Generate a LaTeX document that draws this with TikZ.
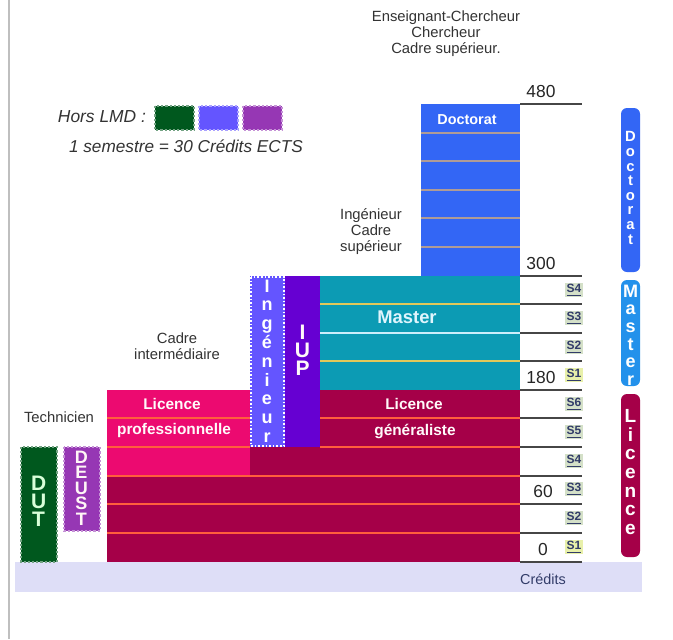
\documentclass[tikz,border=0pt]{standalone}
\usepackage{fontspec}
\setmainfont{Liberation Sans}
\usetikzlibrary{positioning}

\definecolor{docblue}{RGB}{51,102,245}
\definecolor{masterteal}{RGB}{12,155,180}
\definecolor{licred}{RGB}{165,0,72}
\definecolor{licpink}{RGB}{236,10,112}
\definecolor{iupviolet}{RGB}{102,0,210}
\definecolor{ingblue}{RGB}{100,85,255}
\definecolor{dutgreen}{RGB}{0,88,30}
\definecolor{deustpurple}{RGB}{150,55,180}
\definecolor{bandlav}{RGB}{222,222,247}
\definecolor{linered}{RGB}{255,95,60}
\definecolor{docline}{RGB}{175,155,150}
\definecolor{mastline}{RGB}{225,200,90}
\definecolor{scalegray}{RGB}{70,70,70}
\definecolor{semtext}{RGB}{50,60,105}
\definecolor{semfill}{RGB}{212,224,200}
\definecolor{semfirst}{RGB}{232,240,170}
\definecolor{mastertab}{RGB}{35,145,235}

\begin{document}
\begin{tikzpicture}[x=0.5pt, y=-0.5pt,
    dotbox/.style={densely dotted, line width=1.1pt},
    sepline/.style={line width=0.9pt},
    scaleline/.style={draw=scalegray, line width=0.8pt},
    caption/.style={align=center, text=black!80, font=\fontsize{7.4}{8}\selectfont},
    blocklabel/.style={text=white!92!pink, font=\bfseries\fontsize{7.7}{9}\selectfont},
    vletters/.style={align=center, text=white, inner sep=0pt},
    num/.style={text=black!85, font=\fontsize{8.7}{9}\selectfont},
    sem/.style={text=semtext, fill=semfill, inner sep=0.6pt, font=\bfseries\fontsize{6}{6.5}\selectfont},
    tab/.style={rounded corners=3pt}
]

% Page
\fill[white] (0,0) rectangle (673,639);
\useasboundingbox (0,0) rectangle (673,639);
\draw[black!25, line width=1pt] (9,0) -- (9,639);

% Credits band
\fill[bandlav] (15,562) rectangle (642,592);
\node[text=semtext, font=\fontsize{7.2}{8}\selectfont] (credits) at (543,579) {Crédits};

% Licence blocks
\fill[licred] (107,390) rectangle (520,562);
\fill[licpink] (107,390) rectangle (250,476);
\draw[linered, sepline] (107,418) -- (250,418);
\draw[linered, sepline] (320,418) -- (520,418);
\draw[linered, sepline] (107,447) -- (250,447);
\draw[linered, sepline] (320,447) -- (520,447);
\draw[linered, sepline] (107,476) -- (520,476);
\draw[linered, sepline] (107,504) -- (520,504);
\draw[linered, sepline] (107,533) -- (520,533);
\node[blocklabel] (licpro1) at (172,404) {Licence};
\node[blocklabel] (licpro2) at (174,431) {professionnelle};
\node[blocklabel] (licgen1) at (414,404) {Licence};
\node[blocklabel] (licgen2) at (415,431) {généraliste};

% Master block
\fill[masterteal] (320,276) rectangle (520,390);
\draw[mastline, line width=0.7pt] (320,304) -- (520,304);
\draw[white!80!cyan, line width=0.7pt] (320,333) -- (520,333);
\draw[mastline, line width=0.7pt] (320,361) -- (520,361);
\node[text=white!88!cyan, font=\bfseries\fontsize{9.2}{10}\selectfont] (master) at (407,317) {Master};

% Doctorat block
\fill[docblue] (421,104) rectangle (520,276);
\draw[docline, line width=0.7pt] (421,133) -- (520,133);
\draw[docline, line width=0.7pt] (421,161) -- (520,161);
\draw[docline, line width=0.7pt] (421,190) -- (520,190);
\draw[docline, line width=0.7pt] (421,218) -- (520,218);
\draw[docline, line width=0.7pt] (421,247) -- (520,247);
\node[text=white, font=\bfseries\fontsize{7.2}{8}\selectfont] (doctorat) at (467,120) {Doctorat};

% Ingenieur and IUP
\fill[ingblue] (250,276) rectangle (285,447);
\draw[white, densely dotted, line width=0.8pt] (251,277) rectangle (284,446);
\node[vletters, font=\bfseries\fontsize{9}{9.4}\selectfont] (ingenieur) at (267,361) {I\\n\\g\\é\\n\\i\\e\\u\\r};
\fill[iupviolet] (285,276) rectangle (320,447);
\node[vletters, text=white!90!pink, font=\bfseries\fontsize{10.5}{9}\selectfont] (iup) at (302.5,350) {I\\U\\P};

% Hors LMD: DUT and DEUST
\fill[dutgreen] (21,447) rectangle (57,562);
\draw[dutgreen!55!white, dotbox] (21,447) rectangle (57,562);
\node[vletters, text=green!15!white, font=\bfseries\fontsize{10.5}{9}\selectfont] (dut) at (38.6,501) {D\\U\\T};
\fill[deustpurple] (64,447) rectangle (100,531);
\draw[deustpurple!55!white, dotbox] (64,447) rectangle (100,531);
\node[vletters, text=white!85!pink, font=\bfseries\fontsize{9}{7.75}\selectfont] (deust) at (81.4,488) {D\\E\\U\\S\\T};

% Credit scale
\draw[scaleline] (520,104) -- (582,104);
\draw[scaleline] (520,276) -- (582,276);
\draw[scaleline] (520,304) -- (582,304);
\draw[scaleline] (520,333) -- (582,333);
\draw[scaleline] (520,361) -- (582,361);
\draw[scaleline] (520,390) -- (582,390);
\draw[scaleline] (520,418) -- (582,418);
\draw[scaleline] (520,447) -- (582,447);
\draw[scaleline] (520,476) -- (582,476);
\draw[scaleline] (520,504) -- (582,504);
\draw[scaleline] (520,533) -- (582,533);
\draw[scaleline] (520,562) -- (582,562);
\node[num] (n480) at (541,92) {480};
\node[num] (n300) at (541,263) {300};
\node[num] (n180) at (541,377) {180};
\node[num] (n60) at (543,491) {60};
\node[num] (n0) at (543,549) {0};

% Semesters
\node[sem] (msfour) at (574,290) {\underline{S4}};
\node[sem] (msthree) at (574,318) {\underline{S3}};
\node[sem] (mstwo) at (574,347) {\underline{S2}};
\node[sem, fill=semfirst] (msone) at (574,375) {\underline{S1}};
\node[sem] (lssix) at (574,404) {\underline{S6}};
\node[sem] (lsfive) at (574,432) {\underline{S5}};
\node[sem] (lsfour) at (574,461) {\underline{S4}};
\node[sem] (lsthree) at (574,489) {\underline{S3}};
\node[sem] (lstwo) at (574,518) {\underline{S2}};
\node[sem, fill=semfirst] (lsone) at (574,547) {\underline{S1}};

% Cycle tabs
\fill[docblue, tab] (621,108) rectangle (640,272);
\node[vletters, font=\bfseries\fontsize{7.4}{7.3}\selectfont] (tabdoc) at (630.5,188) {D\\o\\c\\t\\o\\r\\a\\t};
\fill[mastertab, tab] (621,280) rectangle (640,386);
\node[vletters, font=\bfseries\fontsize{9}{8.8}\selectfont] (tabmaster) at (630.5,335) {M\\a\\s\\t\\e\\r};
\fill[licred, tab] (621,394) rectangle (640,557);
\node[vletters, font=\bfseries\fontsize{9.5}{9.3}\selectfont] (tablicence) at (630.5,472) {L\\i\\c\\e\\n\\c\\e};

% Careers
\node[caption] (careerdoc) at (446,34) {Enseignant-Chercheur\\Chercheur\\Cadre supérieur.};
\node[caption] (careermaster) at (371,232) {Ingénieur\\Cadre\\supérieur};
\node[caption] (careerinter) at (177,346) {Cadre\\intermédiaire};
\node[caption] (careertech) at (59,417) {Technicien};

% Legend
\node[anchor=east, text=black!80, font=\itshape\fontsize{8.7}{9}\selectfont] (horslmd) at (153,117) {Hors LMD :};
\fill[dutgreen] (155,106) rectangle (194,130);
\draw[dutgreen!55!white, dotbox] (155,106) rectangle (194,130);
\fill[ingblue] (199,106) rectangle (238,130);
\draw[ingblue!55!white, dotbox] (199,106) rectangle (238,130);
\fill[deustpurple] (243,106) rectangle (282,130);
\draw[deustpurple!55!white, dotbox] (243,106) rectangle (282,130);
\node[anchor=west, text=black!80, font=\itshape\fontsize{8.6}{9}\selectfont] (semestre) at (62,146) {1 semestre = 30 Crédits ECTS};

\end{tikzpicture}
\end{document}
